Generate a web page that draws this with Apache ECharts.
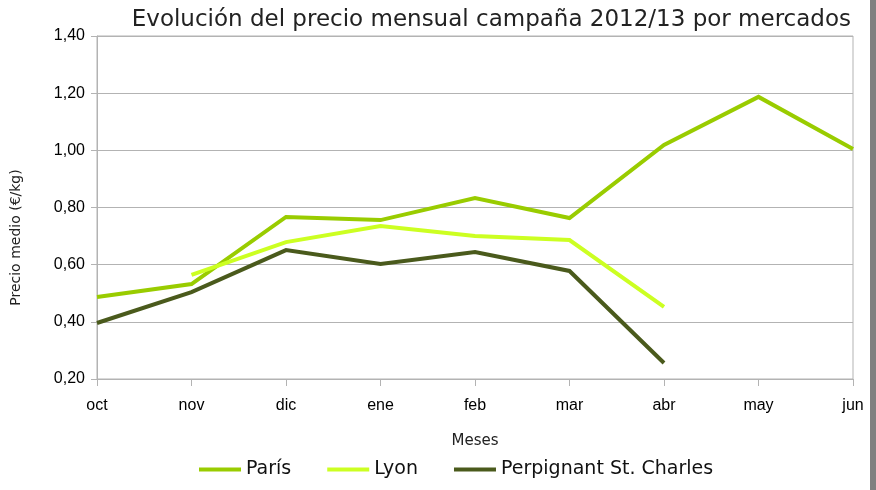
<!DOCTYPE html>
<html>
<head>
<meta charset="utf-8">
<script src="https://cdn.jsdelivr.net/npm/echarts@6/dist/echarts.min.js"></script>
<style>
  html, body { margin: 0; padding: 0; background: #fff; }
  #chart { width: 876px; height: 490px; }
</style>
</head>
<body>
<div id="chart"></div>
<script>
const meses = ['oct', 'nov', 'dic', 'ene', 'feb', 'mar', 'abr', 'may', 'jun'];
const paris = [0.487, 0.532, 0.767, 0.756, 0.833, 0.763, 1.019, 1.187, 1.005];
const lyon = [null, 0.564, 0.679, 0.735, 0.700, 0.686, 0.452, null, null];
const perpignant = [0.396, 0.504, 0.651, 0.602, 0.644, 0.578, 0.256, null, null];

const chart = echarts.init(document.getElementById('chart'));

const mkLine = (name, data, color) => ({
  name,
  type: 'line',
  data,
  showSymbol: false,
  symbol: 'none',
  connectNulls: false,
  lineStyle: { width: 4, color, join: 'miter' },
  itemStyle: { color },
  emphasis: { disabled: true },
  animation: false
});

chart.setOption({
  animation: false,
  title: {
    text: 'Evolución del precio mensual campaña 2012/13 por mercados',
    right: 20,
    top: 4,
    textStyle: { fontFamily: 'DejaVu Sans', fontWeight: 'normal', fontSize: 23, color: '#222' }
  },
  legend: {
    bottom: 6,
    left: 194,
    itemWidth: 42,
    itemHeight: 4,
    itemGap: 36,
    icon: 'rect',
    textStyle: { fontFamily: 'DejaVu Sans', fontSize: 19, color: '#111' },
    data: ['París', 'Lyon', 'Perpignant St. Charles']
  },
  grid: {
    left: 97, right: 23, top: 36, bottom: 111,
    show: true, borderColor: '#b3b3b3', borderWidth: 1
  },
  xAxis: {
    type: 'category',
    data: meses,
    boundaryGap: false,
    name: 'Meses',
    nameLocation: 'middle',
    nameGap: 55,
    nameTextStyle: { fontFamily: 'DejaVu Sans', fontSize: 15, color: '#222' },
    axisLine: { lineStyle: { color: '#b3b3b3' } },
    axisTick: { show: true, length: 7, lineStyle: { color: '#b3b3b3' } },
    axisLabel: { fontFamily: 'Liberation Sans', fontSize: 16, color: '#000', margin: 19 },
    splitLine: { show: false }
  },
  yAxis: {
    type: 'value',
    min: 0.2,
    max: 1.4,
    interval: 0.2,
    name: 'Precio medio (€/kg)',
    nameLocation: 'middle',
    nameGap: 74,
    nameTextStyle: {
      fontFamily: 'DejaVu Sans', fontSize: 14, color: '#222',
      padding: [0, 60, 0, 0]
    },
    axisLine: { show: true, lineStyle: { color: '#b3b3b3' } },
    axisTick: { show: true, length: 6, lineStyle: { color: '#b3b3b3' } },
    axisLabel: {
      fontFamily: 'Liberation Sans', fontSize: 16, color: '#000', margin: 12,
      formatter: v => v.toFixed(2).replace('.', ',')
    },
    splitLine: { lineStyle: { color: '#b3b3b3', width: 1 } }
  },
  graphic: [{
    type: 'rect',
    right: 0,
    top: 0,
    shape: { width: 6, height: 490 },
    style: { fill: '#808080' }
  }],
  series: [
    mkLine('París', paris, '#99cc00'),
    mkLine('Lyon', lyon, '#ccff22'),
    mkLine('Perpignant St. Charles', perpignant, '#4a5a1c')
  ]
});
</script>
</body>
</html>
